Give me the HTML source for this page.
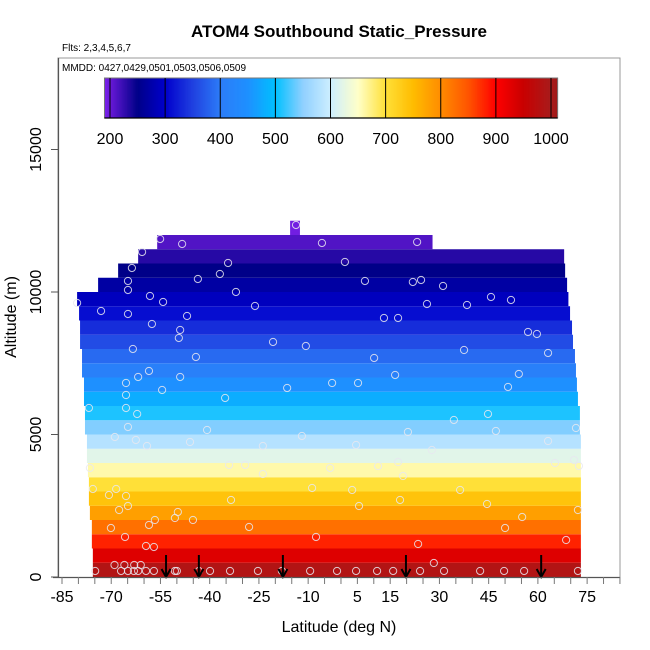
<!DOCTYPE html>
<html><head><meta charset="utf-8">
<style>
html,body{margin:0;padding:0;background:#fff;}
svg{display:block;font-family:"Liberation Sans",sans-serif;}
</style></head>
<body>
<svg id="chart" width="650" height="650" viewBox="0 0 650 650" xmlns="http://www.w3.org/2000/svg">
<text x="339" y="37" font-size="17" font-weight="bold" text-anchor="middle">ATOM4 Southbound Static_Pressure</text>
<text x="62" y="51" font-size="10">Flts: 2,3,4,5,6,7</text>
<text x="62" y="71" font-size="10">MMDD: 0427,0429,0501,0503,0506,0509</text>
<g id="frame"></g>
<g id="cells"></g>
<g id="points"></g>
<g id="arrows"></g>
<g id="axes"></g>
<g id="cbar"></g>
<text x="339" y="632" font-size="16" text-anchor="middle">Latitude (deg N)</text>
<text transform="translate(16,317) rotate(-90)" font-size="16" text-anchor="middle">Altitude (m)</text>
</svg>
<script>
// ---- data ----
const rowAltBottom = [0,500,1000,1500,2000,2500,3000,3500,4000,4500,5000,5500,6000,6500,7000,7500,8000,8500,9000,9500,10000,10500,11000,11500,12000];
const rowLatStart = [-75.6,-75.6,-75.9,-75.9,-76.5,-76.8,-76.8,-77.1,-77.4,-77.4,-78.0,-78.0,-78.3,-78.3,-78.9,-78.9,-79.5,-79.5,-79.8,-80.4,-74.0,-67.9,-61.8,-56.0,-15.5];
const rowLatEnd = [73.1,73.1,73.1,73.1,73.1,73.1,73.1,73.1,73.1,73.1,72.8,72.8,72.2,71.9,71.6,71.3,70.7,70.4,69.8,69.3,68.9,68.3,68.0,27.9,-12.5];
const rowPressure = [985,930,880,825,780,740,700,660,620,580,545,510,480,450,410,385,360,335,310,290,270,250,232,212,195];
const ptLat = [-55.1,-48.4,-60.6,-63.7,-64.9,-64.9,-80.4,-73.1,-54.2,-58.2,-46.9,-64.9,-57.6,-49.0,-49.4,-63.4,-44.2,-65.5,-58.5,-61.8,-49.0,-54.5,-65.5,-65.5,-62.1,-76.8,-64.9,-68.9,-62.5,-59.1,-46.0,-40.8,-35.3,-20.7,-10.7,10.1,-2.7,-16.4,-34.4,-36.9,-32.0,-26.2,-43.6,-13.7,-5.8,1.2,7.3,13.1,17.4,21.9,24.4,31.1,23.2,26.2,38.4,45.7,51.8,57.0,59.7,63.1,54.2,50.9,37.5,44.8,34.4,20.4,16.5,5.2,4.6,-11.9,-23.8,-29.2,-34.1,-23.8,-3.3,3.4,11.3,17.4,18.0,-8.8,-33.5,-45.1,-50.6,-56.7,-58.5,-64.9,-68.5,-65.5,-70.7,-75.6,-76.5,-70.1,-65.8,-67.6,-59.4,-57.0,-49.7,-28.0,5.5,18.9,27.7,36.3,44.5,50.0,55.2,65.2,71.0,71.6,72.2,68.6,47.2,23.5,-7.6,63.1,72.5,
-74.9,-67.0,-64.9,-63.1,-61.8,-59.4,-57.0,-50.6,-50.0,-43.3,-39.9,-33.8,-25.3,-18.0,-9.4,-1.2,4.6,11.0,15.9,24.1,31.4,42.4,49.7,55.8,72.2,-69,-66,-63,-61,28.3];
const ptAlt = [11860,11685,11404,10843,10387,10071,9615,9334,9650,9860,9159,9229,8878,8667,8387,8001,7720,6807,7229,7018,7018,6562,6386,5930,5720,5930,5264,4913,4808,4597,4737,5158,6281,8246,8105,7685,6807,6632,11018,10632,10001,9510,10457,12352,11720,11053,10387,9089,9089,10352,10422,10211,11755,9580,9545,9825,9720,8597,8527,7860,7123,6667,7965,5720,5509,5088,7088,6807,4632,4948,4597,3930,3930,3614,3825,3053,3895,4035,2702,3123,2702,2000,2070,2000,1825,2491,3088,2842,2877,3088,3825,1719,1404,2351,1088,1053,2281,1755,2491,3544,4456,3053,2562,1719,2105,4000,4105,5228,2351,1298,5123,1158,1404,4772,3895,
211,211,211,211,211,211,211,211,211,211,211,211,211,211,211,211,211,211,211,211,211,211,211,211,211,421,421,421,421,490];
const arrowLat = [-53.3,-43.3,-17.7,19.8,61.0];
const xTicks = [-85,-70,-55,-40,-25,-10,5,15,30,45,60,75];
const yTicks = [0,5000,10000,15000];
const cbTicks = [200,300,400,500,600,700,800,900,1000];
const cmapVals = [190,200,250,300,350,400,450,500,550,600,650,700,750,800,850,900,950,1000,1012];
const cmapCols = ['#7a22ec','#6a1ad8','#000088','#0000cc','#2040e0','#2c7cf8','#1e90ff','#00c0ff','#90d0ff','#cdeeff','#ffffc8','#ffe038','#ffbc00','#ff8c00','#ff5400','#ff0000','#c80000','#a81c1c','#a01818'];

// ---- scales ----
const X0=62, XPD=3.282, Y0=577, YPM=0.0285;
const xs = lat => X0 + (lat+85)*XPD;
const ys = alt => Y0 - alt*YPM;
const CBX0=110, CBPX=0.55125;
const cbx = v => CBX0 + (v-200)*CBPX;

function hex(h){return [1,3,5].map(i=>parseInt(h.substr(i,2),16));}
function cmap(v){
  if(v<=cmapVals[0]) return cmapCols[0];
  for(let i=1;i<cmapVals.length;i++){
    if(v<=cmapVals[i]){
      const t=(v-cmapVals[i-1])/(cmapVals[i]-cmapVals[i-1]);
      const a=hex(cmapCols[i-1]), b=hex(cmapCols[i]);
      return 'rgb('+a.map((c,k)=>Math.round(c+(b[k]-c)*t)).join(',')+')';
    }
  }
  return cmapCols[cmapCols.length-1];
}
const NS='http://www.w3.org/2000/svg';
function mk(tag, parent, attrs){
  const e=document.createElementNS(NS,tag);
  for(const k in attrs) e.setAttribute(k,attrs[k]);
  parent.appendChild(e); return e;
}

// frame
const frame=document.getElementById('frame');
const fr=mk('path',frame,{d:'M58,577 V58 H620 V577',fill:'none',stroke:'#999','stroke-width':1});



// cells
const cells=document.getElementById('cells');
rowAltBottom.forEach((a,i)=>{
  const x1=xs(rowLatStart[i]), x2=xs(rowLatEnd[i]);
  const yTop=ys(a+500), yBot=ys(a);
  const r=mk('rect',cells,{x:x1,y:yTop,width:x2-x1,height:yBot-yTop,fill:cmap(rowPressure[i])});
  
  
});

// points
const pts=document.getElementById('points');
ptLat.forEach((lat,i)=>{
  const c=mk('circle',pts,{cx:xs(lat),cy:ys(ptAlt[i]),r:3.6,fill:'none',stroke:'#e8e8f0','stroke-width':1,opacity:0.85});
  
  
});

// arrows
const arr=document.getElementById('arrows');
arrowLat.forEach(lat=>{
  const x=xs(lat);
  const g=mk('g',arr,{});
  
  
  mk('line',g,{x1:x,y1:555,x2:x,y2:576,stroke:'#000','stroke-width':2});
  mk('path',g,{d:`M${x-4.5},569 L${x},577 L${x+4.5},569`,fill:'none',stroke:'#000','stroke-width':2});
});

// axes
const ax=document.getElementById('axes');
const xl=mk('line',ax,{x1:53,y1:577.5,x2:620,y2:577.5,stroke:'#555','stroke-width':1.2});


for(let lat=-85;lat<=85;lat+=5){
  const t=mk('line',ax,{x1:xs(lat),y1:577,x2:xs(lat),y2:584,stroke:'#777','stroke-width':1});
  
  
}
xTicks.forEach(v=>{
  const t=mk('text',ax,{x:xs(v),y:602,'font-size':16,'text-anchor':'middle'});
  t.textContent=v;
  
  
});
const yl=mk('line',ax,{x1:58.5,y1:58,x2:58.5,y2:577,stroke:'#555','stroke-width':1.2});


yTicks.forEach(v=>{
  const y=ys(v);
  const t=mk('line',ax,{x1:51,y1:y,x2:58,y2:y,stroke:'#555','stroke-width':1});
  
  
  const l=mk('text',ax,{transform:`translate(41,${y}) rotate(-90)`,'font-size':16,'text-anchor':'middle'});
  l.textContent=v;
  
  
});

// colorbar
const cb=document.getElementById('cbar');
const cbMin=190, cbMax=1012;
for(let v=cbMin; v<cbMax; v+=2){
  const r=mk('rect',cb,{x:cbx(v),y:78,width:CBPX*2+0.4,height:40,fill:cmap(v+1)});
  
  
}
const cbb=mk('rect',cb,{x:cbx(cbMin),y:78,width:cbx(cbMax)-cbx(cbMin),height:40,fill:'none',stroke:'#777','stroke-width':1});


mk('line',cb,{x1:cbx(cbMin),y1:118,x2:cbx(cbMax),y2:118,stroke:'#000','stroke-width':1.2});
cbTicks.forEach(v=>{
  const l=mk('line',cb,{x1:cbx(v),y1:78,x2:cbx(v),y2:118,stroke:'#000','stroke-width':1});
  
  
  const t=mk('text',cb,{x:cbx(v),y:144,'font-size':16,'text-anchor':'middle'});
  t.textContent=v;
  
  
});
</script>
</body></html>
